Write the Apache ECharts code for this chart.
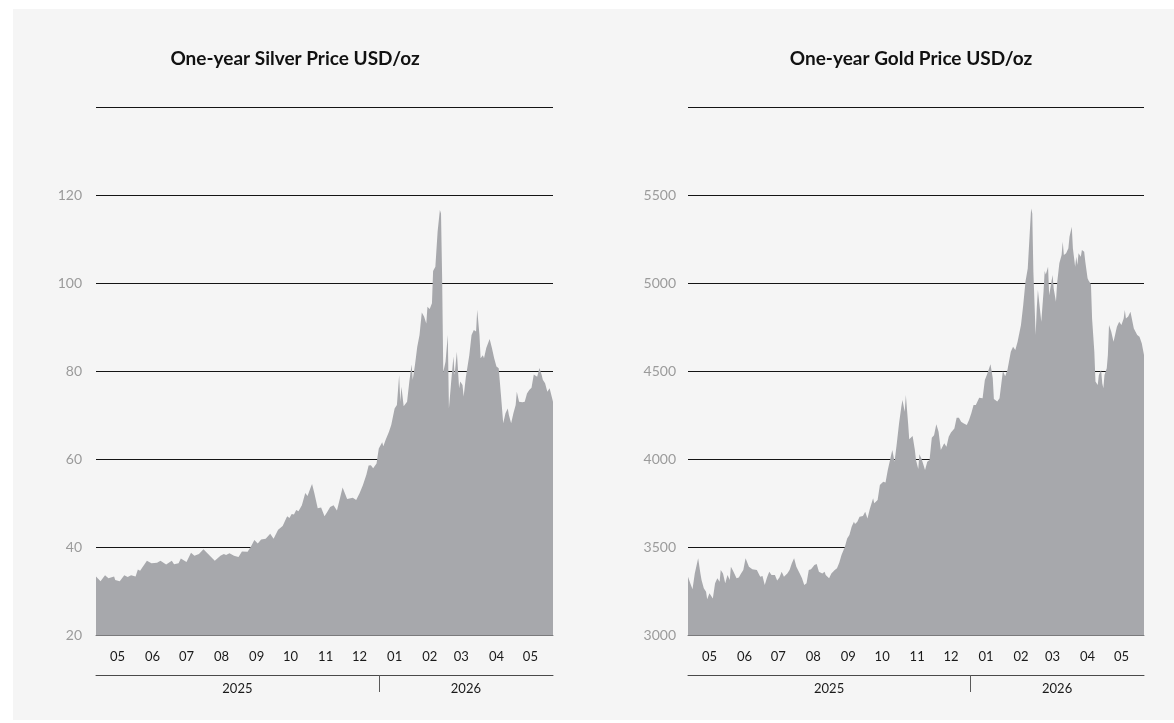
<!DOCTYPE html>
<html>
<head>
<meta charset="utf-8">
<script src="https://cdn.jsdelivr.net/npm/echarts@6/dist/echarts.min.js"></script>
<style>
  html, body { margin: 0; padding: 0; background: #ffffff; }
  #chart { position: absolute; left: 13px; top: 9px; width: 1161px; height: 711px; background: #f5f5f5; }
</style>
</head>
<body>
<div id="chart"></div>
<script>
// Daily range covered by both panels
const firstDay = '2025-04-26';
const lastDay = '2026-06-04';

// Silver, USD/oz
const silverPrices = [
  ['2025-04-26', 33.3], ['2025-04-30', 32.2], ['2025-05-04', 33.6], ['2025-05-07', 32.9],
  ['2025-05-12', 33.3], ['2025-05-13', 32.5], ['2025-05-17', 32.2], ['2025-05-21', 33.6],
  ['2025-05-24', 33.2], ['2025-05-27', 33.6], ['2025-05-31', 33.3], ['2025-06-02', 34.9],
  ['2025-06-04', 34.6], ['2025-06-10', 36.9], ['2025-06-14', 36.3], ['2025-06-19', 36.4],
  ['2025-06-22', 36.9], ['2025-06-27', 36.0], ['2025-07-02', 36.9], ['2025-07-04', 36.1],
  ['2025-07-08', 36.3], ['2025-07-10', 37.4], ['2025-07-15', 36.6], ['2025-07-19', 38.7],
  ['2025-07-22', 38.0], ['2025-07-26', 38.4], ['2025-07-30', 39.5], ['2025-08-04', 38.2],
  ['2025-08-09', 36.9], ['2025-08-14', 38.0], ['2025-08-17', 38.4], ['2025-08-19', 38.2],
  ['2025-08-22', 38.6], ['2025-08-26', 38.0], ['2025-08-30', 37.7], ['2025-09-02', 39.0],
  ['2025-09-07', 38.9], ['2025-09-10', 40.1], ['2025-09-13', 41.6], ['2025-09-16', 40.8],
  ['2025-09-19', 41.7], ['2025-09-23', 41.9], ['2025-09-27', 43.0], ['2025-09-30', 41.9],
  ['2025-10-04', 43.9], ['2025-10-08', 44.8], ['2025-10-12', 47.0], ['2025-10-14', 46.6],
  ['2025-10-16', 47.5], ['2025-10-18', 47.4], ['2025-10-20', 48.4], ['2025-10-22', 48.1],
  ['2025-10-25', 49.5], ['2025-10-28', 52.3], ['2025-10-30', 51.6], ['2025-11-02', 53.7],
  ['2025-11-03', 54.3], ['2025-11-05', 52.3], ['2025-11-08', 48.8], ['2025-11-11', 49.0],
  ['2025-11-14', 47.0], ['2025-11-16', 47.8], ['2025-11-19', 49.1], ['2025-11-22', 49.5],
  ['2025-11-25', 48.3], ['2025-11-30', 53.5], ['2025-12-04', 50.9], ['2025-12-09', 51.2],
  ['2025-12-12', 50.7], ['2025-12-15', 52.2], ['2025-12-18', 54.1], ['2025-12-21', 56.4],
  ['2025-12-23', 58.5], ['2025-12-25', 58.6], ['2025-12-27', 57.9], ['2025-12-30', 59.0],
  ['2026-01-01', 62.4], ['2026-01-04', 63.8], ['2026-01-05', 62.9], ['2026-01-07', 64.3],
  ['2026-01-10', 66.2], ['2026-01-12', 67.7], ['2026-01-15', 71.5], ['2026-01-17', 72.3],
  ['2026-01-19', 79.1], ['2026-01-20', 73.0], ['2026-01-21', 76.4], ['2026-01-23', 72.0],
  ['2026-01-26', 73.0], ['2026-01-28', 77.6], ['2026-01-30', 81.5], ['2026-01-31', 78.0],
  ['2026-02-02', 81.4], ['2026-02-04', 85.5], ['2026-02-06', 88.2], ['2026-02-08', 93.3],
  ['2026-02-10', 92.4], ['2026-02-12', 90.8], ['2026-02-13', 94.6], ['2026-02-15', 94.1],
  ['2026-02-17', 95.4], ['2026-02-18', 102.7], ['2026-02-20', 103.7], ['2026-02-22', 111.7],
  ['2026-02-24', 116.6], ['2026-02-25', 115.8], ['2026-02-26', 101.1], ['2026-02-27', 79.8],
  ['2026-03-01', 82.1], ['2026-03-03', 88.2], ['2026-03-04', 71.5], ['2026-03-06', 77.6],
  ['2026-03-08', 83.3], ['2026-03-09', 79.1], ['2026-03-11', 84.4], ['2026-03-13', 76.1],
  ['2026-03-14', 77.6], ['2026-03-16', 76.8], ['2026-03-17', 74.2], ['2026-03-19', 78.7],
  ['2026-03-22', 83.6], ['2026-03-24', 88.2], ['2026-03-25', 88.2], ['2026-03-26', 89.3],
  ['2026-03-28', 89.0], ['2026-03-29', 93.9], ['2026-03-31', 88.2], ['2026-04-01', 82.9],
  ['2026-04-03', 83.6], ['2026-04-04', 82.9], ['2026-04-06', 85.2], ['2026-04-09', 87.3],
  ['2026-04-11', 85.2], ['2026-04-13', 82.9], ['2026-04-15', 81.0], ['2026-04-17', 80.6],
  ['2026-04-19', 74.5], ['2026-04-21', 68.1], ['2026-04-23', 70.4], ['2026-04-25', 71.5],
  ['2026-04-26', 70.0], ['2026-04-28', 68.1], ['2026-04-30', 70.4], ['2026-05-02', 72.3],
  ['2026-05-03', 75.3], ['2026-05-05', 73.0], ['2026-05-08', 72.9], ['2026-05-10', 73.0],
  ['2026-05-12', 74.9], ['2026-05-14', 75.7], ['2026-05-16', 76.2], ['2026-05-18', 79.2],
  ['2026-05-21', 78.7], ['2026-05-23', 80.7], ['2026-05-25', 79.1], ['2026-05-26', 78.0],
  ['2026-05-28', 77.2], ['2026-05-30', 75.3], ['2026-06-01', 76.1], ['2026-06-04', 73.0]
];

// Gold, USD/oz
const goldPrices = [
  ['2025-04-26', 3331], ['2025-04-28', 3294], ['2025-04-30', 3260], ['2025-05-02', 3350],
  ['2025-05-05', 3436], ['2025-05-07', 3350], ['2025-05-08', 3312], ['2025-05-10', 3265],
  ['2025-05-12', 3246], ['2025-05-13', 3203], ['2025-05-15', 3237], ['2025-05-16', 3246],
  ['2025-05-18', 3208], ['2025-05-20', 3294], ['2025-05-22', 3322], ['2025-05-24', 3303],
  ['2025-05-25', 3369], ['2025-05-27', 3350], ['2025-05-29', 3294], ['2025-05-31', 3341],
  ['2025-06-02', 3312], ['2025-06-03', 3388], ['2025-06-05', 3364], ['2025-06-06', 3374],
  ['2025-06-08', 3322], ['2025-06-10', 3327], ['2025-06-12', 3350], ['2025-06-14', 3369],
  ['2025-06-16', 3436], ['2025-06-19', 3388], ['2025-06-22', 3374], ['2025-06-26', 3369],
  ['2025-06-29', 3331], ['2025-07-01', 3335], ['2025-07-03', 3284], ['2025-07-05', 3327],
  ['2025-07-07', 3360], ['2025-07-09', 3341], ['2025-07-12', 3341], ['2025-07-14', 3309],
  ['2025-07-16', 3327], ['2025-07-18', 3360], ['2025-07-20', 3331], ['2025-07-23', 3350],
  ['2025-07-25', 3369], ['2025-07-27', 3407], ['2025-07-29', 3436], ['2025-07-31', 3388],
  ['2025-08-03', 3350], ['2025-08-05', 3322], ['2025-08-07', 3284], ['2025-08-09', 3294],
  ['2025-08-11', 3369], ['2025-08-13', 3374], ['2025-08-16', 3398], ['2025-08-18', 3403],
  ['2025-08-20', 3360], ['2025-08-23', 3350], ['2025-08-25', 3360], ['2025-08-26', 3341],
  ['2025-08-29', 3322], ['2025-08-31', 3350], ['2025-09-03', 3369], ['2025-09-05', 3379],
  ['2025-09-07', 3411], ['2025-09-09', 3455], ['2025-09-12', 3502], ['2025-09-14', 3549],
  ['2025-09-16', 3568], ['2025-09-18', 3615], ['2025-09-20', 3644], ['2025-09-21', 3630],
  ['2025-09-23', 3644], ['2025-09-25', 3672], ['2025-09-28', 3676], ['2025-09-30', 3700],
  ['2025-10-02', 3662], ['2025-10-04', 3714], ['2025-10-07', 3777], ['2025-10-08', 3748],
  ['2025-10-11', 3767], ['2025-10-13', 3852], ['2025-10-16', 3871], ['2025-10-18', 3866],
  ['2025-10-20', 3937], ['2025-10-22', 3994], ['2025-10-24', 4051], ['2025-10-26', 3985],
  ['2025-10-28', 4089], ['2025-10-30', 4203], ['2025-11-01', 4297], ['2025-11-02', 4335],
  ['2025-11-04', 4269], ['2025-11-05', 4364], ['2025-11-07', 4203], ['2025-11-08', 4112],
  ['2025-11-11', 4131], ['2025-11-13', 4051], ['2025-11-14', 3994], ['2025-11-16', 3943],
  ['2025-11-17', 4027], ['2025-11-19', 4000], ['2025-11-22', 3937], ['2025-11-24', 3985],
  ['2025-11-26', 3995], ['2025-11-28', 4121], ['2025-11-30', 4135], ['2025-12-02', 4197],
  ['2025-12-04', 4155], ['2025-12-06', 4051], ['2025-12-09', 4089], ['2025-12-11', 4070],
  ['2025-12-13', 4127], ['2025-12-15', 4150], ['2025-12-18', 4174], ['2025-12-20', 4235],
  ['2025-12-22', 4235], ['2025-12-24', 4212], ['2025-12-26', 4203], ['2025-12-29', 4193],
  ['2025-12-31', 4222], ['2026-01-02', 4260], ['2026-01-04', 4307], ['2026-01-06', 4307],
  ['2026-01-09', 4348], ['2026-01-12', 4345], ['2026-01-14', 4449], ['2026-01-16', 4481],
  ['2026-01-19', 4538], ['2026-01-21', 4460], ['2026-01-22', 4341], ['2026-01-25', 4326],
  ['2026-01-27', 4345], ['2026-01-29', 4449], ['2026-01-30', 4500], ['2026-02-01', 4470],
  ['2026-02-03', 4506], ['2026-02-06', 4610], ['2026-02-08', 4638], ['2026-02-10', 4620],
  ['2026-02-12', 4666], ['2026-02-15', 4761], ['2026-02-17', 4875], ['2026-02-19', 5008],
  ['2026-02-21', 5083], ['2026-02-23', 5311], ['2026-02-24', 5424], ['2026-02-25', 5395],
  ['2026-02-26', 5064], ['2026-02-28', 4705], ['2026-03-01', 4856], ['2026-03-02', 4960],
  ['2026-03-03', 4969], ['2026-03-05', 4780], ['2026-03-07', 4951], ['2026-03-08', 5068],
  ['2026-03-09', 5049], ['2026-03-11', 5093], ['2026-03-12', 4930], ['2026-03-13', 4940],
  ['2026-03-15', 5045], ['2026-03-16', 4969], ['2026-03-18', 4894], ['2026-03-19', 4997],
  ['2026-03-21', 5112], ['2026-03-23', 5159], ['2026-03-24', 5235], ['2026-03-25', 5159],
  ['2026-03-27', 5169], ['2026-03-29', 5197], ['2026-03-30', 5263], ['2026-04-01', 5320],
  ['2026-04-02', 5197], ['2026-04-04', 5093], ['2026-04-05', 5149], ['2026-04-06', 5102],
  ['2026-04-07', 5169], ['2026-04-09', 5149], ['2026-04-10', 5188], ['2026-04-12', 5178],
  ['2026-04-13', 5121], ['2026-04-15', 5027], ['2026-04-16', 5013], ['2026-04-18', 4993],
  ['2026-04-19', 4799], ['2026-04-21', 4610], ['2026-04-22', 4440], ['2026-04-24', 4420],
  ['2026-04-25', 4477], ['2026-04-27', 4506], ['2026-04-28', 4430], ['2026-04-29', 4402],
  ['2026-04-30', 4477], ['2026-05-02', 4515], ['2026-05-03', 4591], ['2026-05-04', 4761],
  ['2026-05-06', 4723], ['2026-05-08', 4666], ['2026-05-10', 4723], ['2026-05-11', 4752],
  ['2026-05-13', 4780], ['2026-05-15', 4761], ['2026-05-17', 4799], ['2026-05-18', 4847],
  ['2026-05-19', 4799], ['2026-05-21', 4809], ['2026-05-23', 4837], ['2026-05-24', 4828],
  ['2026-05-26', 4742], ['2026-05-27', 4733], ['2026-05-29', 4705], ['2026-05-31', 4695],
  ['2026-06-02', 4657], ['2026-06-04', 4591]
];

// Value-axis scales
const silverAxis = { min: 20, max: 140, step: 20 };
const goldAxis = { min: 3000, max: 6000, step: 500 };

const titles = ['One-year Silver Price USD/oz', 'One-year Gold Price USD/oz'];

// Every calendar day between the two ends, as YYYY-MM-DD
function calendarDays(from, to) {
  const out = [];
  const end = Date.parse(to + 'T00:00:00Z');
  for (let t = Date.parse(from + 'T00:00:00Z'); t <= end; t += 86400000) {
    out.push(new Date(t).toISOString().slice(0, 10));
  }
  return out;
}
const days = calendarDays(firstDay, lastDay);

// One year label centred on the visible part of each year
const yearLabelIndex = new Set();
const byYear = {};
days.forEach((d, i) => { (byYear[d.slice(0, 4)] = byYear[d.slice(0, 4)] || []).push(i); });
Object.values(byYear).forEach(list => yearLabelIndex.add(list[Math.floor(list.length / 2)]));

const FONT = 'Lato';
const FILL = '#a7a8ac';

const grids = [
  { left: 83, top: 98, width: 457, height: 528 },
  { left: 675, top: 98, width: 456, height: 528 }
];

function monthAxis(g) {
  return {
    type: 'category', gridIndex: g, data: days, boundaryGap: false,
    axisLine: { show: true, lineStyle: { color: '#7a7a7c', width: 1 } },
    axisTick: { show: false },
    splitLine: { show: false },
    axisLabel: {
      interval: (i, v) => v.slice(8) === '15',
      formatter: v => v.slice(5, 7),
      margin: 15, fontSize: 13, color: '#1a1a1a', fontFamily: FONT
    }
  };
}
function yearAxis(g) {
  return {
    type: 'category', gridIndex: g, data: days, boundaryGap: false,
    position: 'bottom', offset: 40,
    axisLine: { show: true, lineStyle: { color: '#4a4a4a', width: 1 } },
    axisTick: {
      show: true, inside: false, length: 17,
      interval: (i, v) => v.slice(5) === '01-01',
      lineStyle: { color: '#5a5a5a', width: 1 }
    },
    splitLine: { show: false },
    axisLabel: {
      interval: i => yearLabelIndex.has(i),
      formatter: v => v.slice(0, 4),
      margin: 7, fontSize: 13, color: '#1a1a1a', fontFamily: FONT
    }
  };
}
function valueAxis(g, s, margin) {
  return {
    type: 'value', gridIndex: g, min: s.min, max: s.max, interval: s.step,
    axisLine: { show: false }, axisTick: { show: false },
    splitLine: { show: true, showMinLine: false, lineStyle: { color: '#141414', width: 1 } },
    axisLabel: {
      showMaxLabel: false, margin: margin, fontSize: 14, color: '#9b9b9b', fontFamily: FONT,
      formatter: v => String(v)
    }
  };
}
function areaSeries(xIdx, yIdx, data) {
  return {
    type: 'line', xAxisIndex: xIdx, yAxisIndex: yIdx, data: data,
    showSymbol: false, symbol: 'none', silent: true,
    lineStyle: { width: 0, color: FILL },
    areaStyle: { color: FILL, opacity: 1, origin: 'start' }
  };
}

const chart = echarts.init(document.getElementById('chart'), null, { renderer: 'canvas' });
chart.setOption({
  animation: false,
  backgroundColor: '#f5f5f5',
  textStyle: { fontFamily: FONT },
  grid: grids,
  xAxis: [monthAxis(0), yearAxis(0), monthAxis(1), yearAxis(1)],
  yAxis: [valueAxis(0, silverAxis, 14), valueAxis(1, goldAxis, 12)],
  series: [areaSeries(0, 0, silverPrices), areaSeries(2, 1, goldPrices)],
  graphic: titles.map((t, k) => ({
    type: 'text',
    x: k === 0 ? 282 : 898,
    y: 50,
    style: {
      text: t, align: 'center', verticalAlign: 'middle',
      textAlign: 'center', textVerticalAlign: 'middle',
      fontSize: 19, fontWeight: 'bold', fontFamily: FONT, fill: '#111111'
    }
  }))
});
</script>
</body>
</html>
